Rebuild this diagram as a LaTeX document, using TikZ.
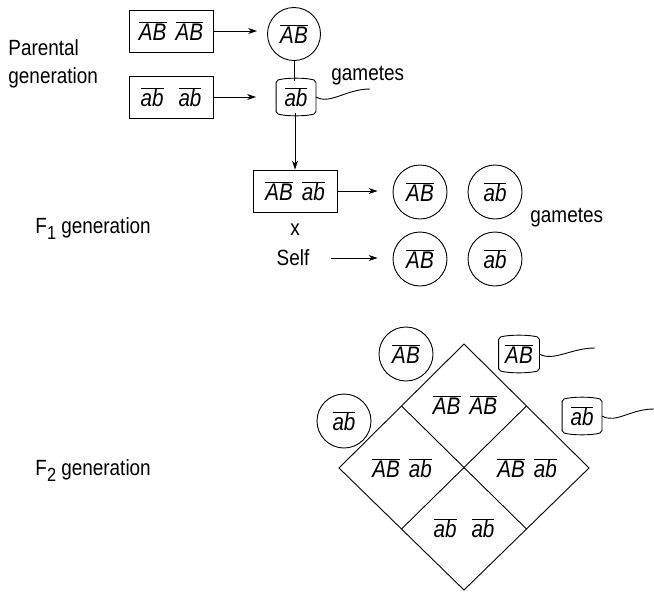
\documentclass[tikz,border=0pt]{standalone}
\usepackage{fontspec}
\setmainfont{Liberation Sans}[FakeStretch=0.86]
\usetikzlibrary{arrows.meta,calc}
\newcommand{\gt}[1]{$\overline{\hbox{\fontsize{24}{26}\selectfont\itshape #1}}$}
\begin{document}
\begin{tikzpicture}[x=1pt,y=-1pt,
  font=\fontsize{22}{26}\selectfont,
  every path/.style={line width=0.9pt},
  box/.style={draw, minimum width=84pt, minimum height=42pt, inner sep=0pt},
  gam/.style={draw, circle, minimum size=54pt, inner sep=0pt},
  can/.style={minimum width=39pt, minimum height=32pt, inner sep=0pt},
  arr/.style={-{Stealth[length=9pt,width=6pt]}},
  lbl/.style={inner sep=0pt, anchor=base west}]
\newcommand{\candraw}[1]{\draw[rounded corners=2pt] (#1.south west) -- (#1.north west) .. controls +(10,-3) and +(-10,-3) .. (#1.north east) -- (#1.south east) .. controls +(-10,3) and +(10,3) .. (#1.south west) -- cycle;}
\useasboundingbox (0,0) rectangle (654,592);
% parental
\node[lbl] (par) at (8,55) {Parental};
\node[lbl] (gen) at (8,83) {generation};
\node[box] (p1) at (171,31) {\gt{AB}\hspace{9pt}\gt{AB}};
\node[box] (p2) at (171,97) {\gt{ab}\hspace{15pt}\gt{ab}};
\node[gam, minimum size=53pt] (g1) at (294,34) {\gt{AB}};
\node[can] (c1) at (296,97) {\gt{ab}};
\candraw{c1}
\node[lbl] (gm1) at (331,80) {gametes};
\coordinate (w1) at (370,89);
\draw (c1.east) .. controls +(14,8) and +(-24,0) .. (w1);
\draw[arr, shorten >=10pt] (p1.east) -- (p1.east -| g1.west);
\draw[arr, shorten >=20pt] (p2.east) -- (p2.east -| c1.west);
\draw (g1.south) -- (g1.south |- c1.north);
% F1
\node[box] (f1) at (295,191) {\gt{AB}\hspace{9pt}\gt{ab}};
\draw[arr] (c1.south -| f1.north) -- (f1.north);
\node[lbl] (f1l) at (35,233) {F\raisebox{-6pt}{\fontsize{19}{19}\selectfont 1} generation};
\node (x) at (295,230) {x};
\node (self) at (293,258) {Self};
\node[gam] (a1) at (420,192) {\gt{AB}};
\node[gam] (b1) at (495,192) {\gt{ab}};
\node[gam] (a2) at (420,259) {\gt{AB}};
\node[gam] (b2) at (495,259) {\gt{ab}};
\node[lbl] (gm2) at (530,222) {gametes};
\draw[arr, shorten >=15pt] (f1.east) -- (f1.east -| a1.west);
\draw[arr, shorten <=18pt, shorten >=15pt] (self.east) -- (self.east -| a2.west);
% F2
\node[lbl] (f2l) at (35,475) {F\raisebox{-6pt}{\fontsize{19}{19}\selectfont 2} generation};
\coordinate (dT) at (464,344);
\coordinate (dL) at (339,468);
\coordinate (dR) at (589,468);
\coordinate (dB) at (464,590);
\draw (dT) -- (dR) -- (dB) -- (dL) -- cycle;
\draw ($(dT)!0.5!(dL)$) -- ($(dR)!0.5!(dB)$);
\draw ($(dT)!0.5!(dR)$) -- ($(dL)!0.5!(dB)$);
\node (t1) at (465,405) {\gt{AB}\hspace{9pt}\gt{AB}};
\node (t2) at (402,468) {\gt{AB}\hspace{9pt}\gt{ab}};
\node (t3) at (527,468) {\gt{AB}\hspace{9pt}\gt{ab}};
\node (t4) at (464,528) {\gt{ab}\hspace{15pt}\gt{ab}};
\node[gam] (fa) at (406,354) {\gt{AB}};
\node[gam] (fb) at (344,421) {\gt{ab}};
\node[can, minimum width=40pt] (ca) at (519,354) {\gt{AB}};
\candraw{ca}
\node[can] (cb) at (582,416) {\gt{ab}};
\candraw{cb}
\coordinate (w2) at (595,348);
\coordinate (w3) at (654,409);
\draw (ca.east) .. controls +(14,8) and +(-24,0) .. (w2);
\draw (cb.east) .. controls +(14,8) and +(-24,0) .. (w3);
\end{tikzpicture}
\end{document}
